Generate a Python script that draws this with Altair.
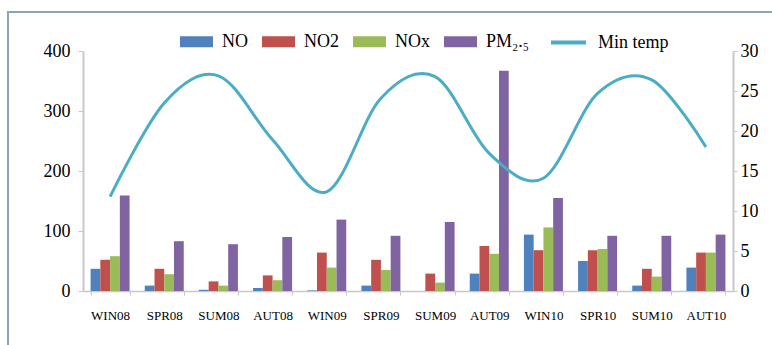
import altair as alt
import pandas as pd

seasons = ["WIN08", "SPR08", "SUM08", "AUT08", "WIN09", "SPR09",
           "SUM09", "AUT09", "WIN10", "SPR10", "SUM10", "AUT10"]
no_vals = [37, 9, 2, 5, 1, 9, 0, 29, 94, 50, 9, 39]
no2_vals = [52, 37, 16, 26, 64, 52, 29, 75, 68, 68, 37, 64]
nox_vals = [58, 28, 9, 18, 39, 35, 14, 62, 106, 70, 24, 64]
pm_vals = [159, 83, 78, 90, 119, 92, 115, 367, 155, 92, 92, 94]
min_temp = [11.8, 23.5, 26.9, 18.9, 12.4, 24.1, 26.8, 17.2, 14.1, 24.7, 26.4, 18.0]

series_names = ["NO", "NO2", "NOx", "PM₂.₅"]
series_colors = ["#4F81BD", "#C0504D", "#9BBB59", "#8064A2"]
line_name = "Min temp"
line_color = "#4BACC6"

rows = []
for name, vals in zip(series_names, [no_vals, no2_vals, nox_vals, pm_vals]):
    for s, v in zip(seasons, vals):
        rows.append({"season": s, "series": name, "value": v})
bar_df = pd.DataFrame(rows)
line_df = pd.DataFrame({"season": seasons, "temp": min_temp, "series": line_name})

FONT = "'Liberation Serif', 'Times New Roman', Times, serif"
AXIS_GRAY = "#C8C8C8"

x_enc = alt.X(
    "season:N", sort=seasons,
    scale=alt.Scale(paddingInner=0.28, paddingOuter=0.14),
    axis=alt.Axis(title=None, labelAngle=0, tickBand="extent", tickSize=4,
                  labelPadding=14, labelFont=FONT, labelFontSize=13,
                  labelColor="#000000", domainColor=AXIS_GRAY, tickColor=AXIS_GRAY,
                  domainWidth=1.5, grid=False),
)

bars = alt.Chart(bar_df).mark_bar().encode(
    x=x_enc,
    xOffset=alt.XOffset("series:N", sort=series_names,
                        scale=alt.Scale(domain=series_names, paddingInner=0, paddingOuter=0)),
    y=alt.Y("value:Q", scale=alt.Scale(domain=[0, 400], nice=False),
            axis=alt.Axis(title=None, values=[0, 100, 200, 300, 400], tickSize=5,
                          labelPadding=8, labelFont=FONT, labelFontSize=18,
                          labelColor="#000000", domainColor=AXIS_GRAY,
                          tickColor=AXIS_GRAY, domainWidth=2, grid=False)),
    color=alt.Color("series:N", sort=series_names,
                    scale=alt.Scale(domain=series_names, range=series_colors),
                    legend=alt.Legend(
                        title=None, orient="none", direction="horizontal",
                        legendX=97, legendY=-26, padding=0,
                        symbolType="M-1,-0.33H1V0.33H-1Z", symbolSize=1089,
                        symbolStrokeWidth=0, labelFont=FONT, labelFontSize=18,
                        labelColor="#000000", labelOffset=9, columnPadding=14)),
)

line = alt.Chart(line_df).mark_line(interpolate="cardinal", strokeWidth=3).encode(
    x=x_enc,
    y=alt.Y("temp:Q", scale=alt.Scale(domain=[0, 30], nice=False),
            axis=alt.Axis(title=None, orient="right", values=[0, 5, 10, 15, 20, 25, 30],
                          tickSize=4, labelPadding=3, labelFont=FONT, labelFontSize=18,
                          labelColor="#000000", domainColor=AXIS_GRAY,
                          tickColor=AXIS_GRAY, domainWidth=2, grid=False)),
    stroke=alt.Stroke("series:N",
                      scale=alt.Scale(domain=[line_name], range=[line_color]),
                      legend=alt.Legend(
                          title=None, orient="none", legendX=466, legendY=-28,
                          padding=0, symbolType="stroke", symbolSize=1225,
                          symbolStrokeWidth=4, labelFont=FONT, labelFontSize=18,
                          labelColor="#000000", labelOffset=10)),
)

frame = alt.Chart(pd.DataFrame({"k": [0]})).mark_rect(
    fill="transparent", stroke="#8EA3BA", strokeWidth=2
).encode(x=alt.value(-75), x2=alt.value(720), y=alt.value(-39), y2=alt.value(320))

chart = alt.layer(bars, line, frame).resolve_scale(
    y="independent", color="independent", stroke="independent"
).properties(
    width=650, height=240,
    autosize=alt.AutoSizeParams(type="none"),
    padding={"left": 83, "top": 51, "right": 39, "bottom": 54},
    background="#FFFFFF",
).configure_view(stroke=None)

chart.save("out.html", embed_options={"renderer": "svg", "actions": False})
